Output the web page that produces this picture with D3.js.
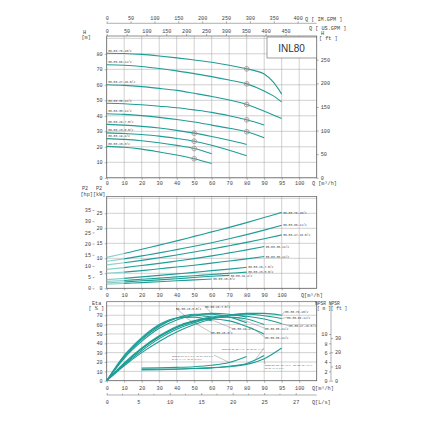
<!DOCTYPE html>
<html><head><meta charset="utf-8">
<script src="https://cdn.jsdelivr.net/npm/d3@7"></script>
<style>body{margin:0;background:#fff}svg{display:block}</style>
</head><body><svg id="c" width="428" height="428"></svg>
<script>
// ---------- tick labels ----------
const qLabelsTop = ["0","10","20","30","40","50","60","70","80","90","95","100"];
const qLabelsMid = ["0","10","20","30","40","50","60","70","80","90","100",""];
const qLabelsBot = ["0","10","20","30","40","50","60","70","80","90","95","100"];
const imGpmTicks = [0,50,100,150,200,250,300,350,400];
const usGpmTicks = [0,50,100,150,200,250,300,350,400,450];
const hTicks = [0,10,20,30,40,50,60,70,80];
const ftTicks = [0,50,100,150,200,250];
const kwTicks = [0,5,10,15,20,25];
const hpTicks = [0,5,10,15,20,25,30,35];
const etaTicks = [0,10,20,30,40,50,60,70];
const npshMTicks = [0,2,4,6,8,10];
const npshFtTicks = [0,10,20,30];
const lsTicks = [0,5,10,15,20,25,30];
const lsLabels = ["0","5","10","15","20","25","27"];

// ---------- models ----------
const models = ["80-80-76-10/2","80-80-66-12/2","80-80-47-16.5/2","80-80-38-11/2","80-80-30-11/2",
                "80-50-26-7.5/2","80-50-23-5.5/2","80-50-19-4/2","80-50-15-3/2"];

// ---------- head curves H[m] vs Q ----------
const h76 = [[0,80.4],[10,80.2],[20,79.6],[30,78.6],[40,77.4],[50,76],[60,74.5],[70,72.6],[80,70.3],[85,69],[90,67],[95,62],[100,54]];
const h66 = [[0,72.9],[10,72.6],[20,71.8],[30,70.5],[40,69],[50,67.2],[60,65.3],[70,63.1],[80,60.6],[90,56],[95,53],[100,49]];
const h47 = [[0,60],[10,59.6],[20,58.8],[30,57.7],[40,56.4],[50,54.5],[60,52.5],[70,50.2],[80,47.3],[90,43],[100,38.3]];
const h38 = [[0,48.1],[10,47.8],[20,47.1],[30,46.2],[40,45.2],[50,43.8],[60,42.2],[70,40],[80,37.4],[90,34]];
const h30 = [[0,41.3],[10,40.9],[20,40.1],[30,39],[40,37.6],[50,36],[60,34],[70,32],[80,29.7],[90,25.8]];
const h26 = [[0,34.5],[10,34],[20,33.2],[30,32.1],[40,30.6],[50,28.8],[60,26.6],[70,24.2],[80,21.5]];
const h23 = [[0,29],[10,28.6],[20,27.9],[30,26.9],[40,25.4],[50,23.6],[60,21],[70,17.8],[80,14.2]];
const h19 = [[0,25.3],[10,24.8],[20,23.9],[30,22.6],[40,20.9],[50,18.9],[60,15.5]];
const h15 = [[0,20.3],[10,19.7],[20,18.5],[30,16.7],[40,14.7],[50,12.3],[60,9.2]];
const headCurves = [h76,h66,h47,h38,h30,h26,h23,h19,h15];
const dutyPoints = [[80,70.3],[80,60.6],[80,47.3],[80,37.4],[80,29.7],[50,28.8],[50,23.6],[50,18.9],[50,12.3]];

// ---------- power curves P2[kW] vs Q ----------
const p76 = [[0,10.3],[10,11.6],[20,13],[30,14.4],[40,15.8],[50,17.3],[60,18.8],[70,20.3],[80,21.9],[90,23.6],[100,25.3]];
const p66 = [[0,9],[10,9.8],[20,10.8],[30,11.8],[40,12.9],[50,14],[60,15.2],[70,16.5],[80,17.9],[90,19.4],[100,21]];
const p47 = [[0,7.8],[10,8.5],[20,9.3],[30,10.2],[40,11.1],[50,12.1],[60,13.1],[70,14.2],[80,15.3],[90,16.5],[100,17.8]];
const p38 = [[0,6.3],[10,6.9],[20,7.6],[30,8.3],[40,9.1],[50,9.9],[60,10.8],[70,11.8],[80,12.8],[90,13.9]];
const p30 = [[0,5],[10,5.4],[20,5.9],[30,6.5],[40,7.1],[50,7.7],[60,8.4],[70,9.1],[80,9.8],[90,10.6]];
const p26 = [[0,2.9],[10,3.3],[20,3.8],[30,4.3],[40,4.8],[50,5.3],[60,5.9],[70,6.4],[80,7]];
const p23 = [[0,2.3],[10,2.6],[20,3],[30,3.4],[40,3.8],[50,4.2],[60,4.6],[70,5],[80,5.4]];
const p19 = [[0,1.8],[10,2.1],[20,2.5],[30,2.8],[40,3.2],[50,3.6],[60,4],[70,4.3]];
const p15 = [[0,1.4],[10,1.6],[20,1.9],[30,2.2],[40,2.5],[50,2.8],[60,3.1]];
const powerCurves = [p76,p66,p47,p38,p30,p26,p23,p19,p15];

// ---------- efficiency curves Eta[%] vs Q ----------
const e76 = [[0,0],[10,16],[20,30],[30,42],[40,52],[50,60],[60,66],[70,70],[80,72],[90,72],[100,70]];
const e66 = [[0,0],[10,17],[20,32],[30,45],[40,55],[50,62],[60,67],[70,70],[80,71],[90,69.5],[100,66.5]];
const e47 = [[0,0],[10,18],[20,34],[30,47],[40,57],[50,64],[60,68],[70,70],[80,69],[90,66],[100,61]];
const e38 = [[0,0],[10,18],[20,34],[30,47],[40,57],[50,63],[60,67],[70,68],[80,66],[90,60]];
const e30 = [[0,0],[10,19],[20,35],[30,48],[40,58],[50,64],[60,66],[70,64],[80,58],[90,50]];
const e26 = [[0,0],[10,24],[20,42],[30,56],[40,65],[50,70],[60,72],[70,71],[80,68]];
const e23 = [[0,0],[10,25],[20,44],[30,58],[40,67],[50,71],[60,71],[70,68],[80,62]];
const e19 = [[0,0],[10,26],[20,45],[30,59],[40,67],[50,70],[60,68]];
const e15 = [[0,0],[10,27],[20,46],[30,60],[40,67],[50,68],[60,64]];
const etaCurves = [e76,e66,e47,e38,e30,e26,e23,e19,e15];

// ---------- NPSH curves [m] vs Q ----------
const nA = [[20,2.7],[30,2.75],[40,2.85],[50,3],[60,3.3],[70,3.9],[80,5.2]];
const nB = [[20,2.3],[30,2.35],[40,2.45],[50,2.6],[60,2.8],[70,3.1],[80,3.7],[90,5.4]];
const nC = [[20,2.4],[30,2.45],[40,2.5],[50,2.6],[60,2.75],[70,3],[80,3.5],[90,4.7],[100,7]];
const npshCurves = [nA,nB,nC];
const npshLabels = [
  ["NPSR(80-50-26-7.5/2, 80-50-23-5.5/2,","80-50-19-4/2, 80-50-15-3/2)"],
  ["NPSR(80-80-38-11/2, 80-80-30-11/2)"],
  ["NPSR(80-80-76-10/2, 80-80-66-12/2,","80-80-47-16.5/2)"]
];

// ---------- drawing ----------
const svg = d3.select("#c");
svg.append("rect").attr("width",428).attr("height",428).attr("fill","#fff");
const TEAL = "#1f9d96", GRID = "#a0a0a0", FRAME = "#606060", TXT = "#444";
const FONT = "Liberation Mono, DejaVu Sans Mono, monospace";
const X0 = 106.7, X1 = 316.7;
const x = d3.scaleLinear([0,120],[X0,X1]);
const gridQ = d3.range(0,121,10);

const yH = d3.scaleLinear([0,90],[177.8,38.3]);
const yFt = d3.scaleLinear([0,90*3.2808],[177.8,38.3]);
const yP = d3.scaleLinear([0,30],[288.3,198.3]);
const yHp = d3.scaleLinear([0,30*1.341],[288.3,198.3]);
const yE = d3.scaleLinear([0,80],[380.7,305.9]);
const yN = d3.scaleLinear([0,10],[380.7,334]);
const yNft = d3.scaleLinear([0,10*3.2808],[380.7,334]);
const xIM = d3.scaleLinear([0,120*3.666],[X0,X1]);
const xUS = d3.scaleLinear([0,120*4.403],[X0,X1]);
const xLs = d3.scaleLinear([0,120/3.6],[X0,X1]);

function txt(s, px, py, anchor, size, fam) {
  return svg.append("text").attr("x",px).attr("y",py).attr("text-anchor",anchor||"start")
    .attr("font-family",fam||FONT).attr("font-size",size||5.2).attr("fill",TXT).text(s);
}
function panel(top, bottom, yScale, yTickVals, qLabels, labelY) {
  const g = svg.append("g");
  gridQ.forEach(q => g.append("line").attr("x1",x(q)).attr("x2",x(q)).attr("y1",top).attr("y2",bottom)
     .attr("stroke",GRID).attr("stroke-width",0.5));
  yTickVals.forEach(v => g.append("line").attr("x1",X0).attr("x2",X1).attr("y1",yScale(v)).attr("y2",yScale(v))
     .attr("stroke",GRID).attr("stroke-width",0.5));
  g.append("rect").attr("x",X0).attr("y",top).attr("width",X1-X0).attr("height",bottom-top)
     .attr("fill","none").attr("stroke",FRAME).attr("stroke-width",0.7);
  const ax = svg.append("g").attr("transform",`translate(0,${bottom})`)
    .call(d3.axisBottom(x).tickValues(gridQ.slice(0,12)).tickSize(2).tickFormat((d,i)=>qLabels[i]));
  ax.select(".domain").remove();
  ax.selectAll("line").attr("stroke",FRAME).attr("stroke-width",0.5);
  ax.selectAll("text").attr("font-family",FONT).attr("font-size",5.2).attr("fill",TXT).attr("y",labelY-bottom).attr("dy",0);
  return g;
}
function leftAxis(scale, vals, xPos, dx) {
  const a = svg.append("g").attr("transform",`translate(${xPos},0)`)
    .call(d3.axisLeft(scale).tickValues(vals).tickSize(2).tickPadding(dx||2));
  a.select(".domain").remove();
  a.selectAll("line").attr("stroke",FRAME).attr("stroke-width",0.5);
  a.selectAll("text").attr("font-family",FONT).attr("font-size",5.2).attr("fill",TXT);
  return a;
}
function rightAxis(scale, vals, xPos) {
  const a = svg.append("g").attr("transform",`translate(${xPos},0)`)
    .call(d3.axisRight(scale).tickValues(vals).tickSize(2).tickPadding(2));
  a.select(".domain").remove();
  a.selectAll("line").attr("stroke",FRAME).attr("stroke-width",0.5);
  a.selectAll("text").attr("font-family",FONT).attr("font-size",5.2).attr("fill",TXT);
  return a;
}
const curve = d3.curveMonotoneX;
const LBL = 3.0;

// ===== TOP: H =====
panel(36, 177.8, yH, hTicks.concat([90]), qLabelsTop, 185.3);
leftAxis(yH, hTicks, X0);
rightAxis(yFt, ftTicks, X1);
txt("Q [m\u00B3/h]", 312, 185.3);
txt("H", 83, 33.5); txt("[m]", 81.5, 39);
txt("H", 321, 34.5); txt("[ ft ]", 319, 40);
const axIM = svg.append("g").attr("transform","translate(0,23.3)")
  .call(d3.axisTop(xIM).tickValues(imGpmTicks).tickSize(2).tickPadding(1.5));
axIM.select(".domain").attr("d",`M${X0},0H${X1}`).attr("stroke",FRAME).attr("stroke-width",0.5);
axIM.selectAll("line").attr("stroke",FRAME).attr("stroke-width",0.5);
axIM.selectAll("text").attr("font-family",FONT).attr("font-size",5.2).attr("fill",TXT);
txt("Q [ IM.GPM ]", 305, 20.5);
const axUS = svg.append("g").attr("transform","translate(0,36)")
  .call(d3.axisTop(xUS).tickValues(usGpmTicks).tickSize(2).tickPadding(1.5));
axUS.select(".domain").remove();
axUS.selectAll("line").attr("stroke",FRAME).attr("stroke-width",0.5);
axUS.selectAll("text").attr("font-family",FONT).attr("font-size",5.2).attr("fill",TXT);
txt("Q [ US.GPM ]", 309, 29.5);
svg.append("rect").attr("x",267).attr("y",37).attr("width",49.7).attr("height",21)
  .attr("fill","#fff").attr("stroke",FRAME).attr("stroke-width",0.6);
txt("INL80", 291.5, 51.5, "middle", 10, "Liberation Sans, Arial, sans-serif").attr("fill","#333");

const lineH = d3.line().x(d=>x(d[0])).y(d=>yH(d[1])).curve(curve);
headCurves.forEach((c,i) => {
  svg.append("path").attr("d",lineH(c)).attr("fill","none").attr("stroke",TEAL).attr("stroke-width",1.1);
  txt(models[i], X0+1.5, yH(c[0][1])-1.6, "start", LBL);
});
dutyPoints.forEach(p => {
  const cx = x(p[0]), cy = yH(p[1]);
  svg.append("circle").attr("cx",cx).attr("cy",cy).attr("r",2.4).attr("fill","none").attr("stroke","#9a8c8c").attr("stroke-width",0.7);
  svg.append("path").attr("d",`M${cx-2.4},${cy}H${cx+2.4}M${cx},${cy-2.4}V${cy+2.4}`).attr("stroke","#9a8c8c").attr("stroke-width",0.5);
});

// ===== MIDDLE: P2 =====
panel(196.5, 288.3, yP, kwTicks.concat([30]), qLabelsMid, 297.3);
leftAxis(yP, kwTicks, X0);
leftAxis(yHp, hpTicks, 94.5, 1.5);
txt("P2", 82, 189.5); txt("P2", 96, 189.5);
txt("[hp][kW]", 80.5, 196);
txt("Q[m\u00B3/h]", 301, 297.3);
const lineP = d3.line().x(d=>x(d[0])).y(d=>yP(d[1])).curve(curve);
powerCurves.forEach((c,i) => {
  const faint = c.filter(d=>d[0]<=10), solid = c.filter(d=>d[0]>=10);
  svg.append("path").attr("d",lineP(faint)).attr("fill","none").attr("stroke","#8ccfca").attr("stroke-width",1.1);
  svg.append("path").attr("d",lineP(solid)).attr("fill","none").attr("stroke",TEAL).attr("stroke-width",1.1);
  const e = c[c.length-1];
  txt(models[i], x(e[0])+1.5, yP(e[1])+1.1, "start", LBL);
});

// ===== BOTTOM: Eta / NPSH =====
panel(301.7, 380.7, yE, etaTicks.concat([80]), qLabelsBot, 390.3);
leftAxis(yE, etaTicks, X0);
txt("Eta", 92, 304.5); txt("[ % ]", 88.5, 309.5);
txt("Q[m\u00B3/h]", 312, 390.3);
svg.append("line").attr("x1",331).attr("x2",331).attr("y1",301.7).attr("y2",380.7).attr("stroke",FRAME).attr("stroke-width",0.5);
leftAxis(yN, npshMTicks, 331, 1.5);
rightAxis(yNft, npshFtTicks, 331);
txt("NPSR NPSR", 315, 304.5, "start", 4.6);
txt("[ m ][ ft ]", 317, 309.5, "start", 4.6);
const axLs = svg.append("g").attr("transform","translate(0,395)")
  .call(d3.axisTop(xLs).tickValues(lsTicks).tickSize(2).tickFormat((d,i)=>lsLabels[i]));
axLs.select(".domain").attr("d",`M${X0},0H${X1}`).attr("stroke",FRAME).attr("stroke-width",0.5);
axLs.selectAll("line").attr("stroke",FRAME).attr("stroke-width",0.5);
axLs.selectAll("text").attr("font-family",FONT).attr("font-size",5.2).attr("fill",TXT).attr("y",9).attr("dy",0);
svg.append("g").attr("transform","translate(0,395)").selectAll("line").data(d3.range(2.5,30,5)).join("line")
  .attr("x1",d=>xLs(d)).attr("x2",d=>xLs(d)).attr("y1",0).attr("y2",-1.2).attr("stroke",FRAME).attr("stroke-width",0.5);
txt("Q[L/s]", 312, 404);

const lineE = d3.line().x(d=>x(d[0])).y(d=>yE(d[1])).curve(d3.curveMonotoneX);
etaCurves.forEach(c => {
  svg.append("path").attr("d",lineE(c)).attr("fill","none").attr("stroke",TEAL).attr("stroke-width",1.1);
});
const etaLabelPos = [[0,285,312.5,100],[1,287,318.5,100],[2,289,327,100],[3,265,329.5,75],[4,265,338.5,85],
                     [5,205,307.5,60],[6,176,309.5,45],[7,232,329.5,55],[8,211,333.5,45]];
function valAt(c,q){ const i=d3.bisector(d=>d[0]).left(c,q); if(i<=0) return c[0][1]; if(i>=c.length) return c[c.length-1][1];
  const a=c[i-1], b=c[i]; return a[1]+(b[1]-a[1])*(q-a[0])/(b[0]-a[0]); }
etaLabelPos.forEach(([m,tx,ty,q]) => {
  const c = etaCurves[m];
  svg.append("line").attr("x1",x(q)).attr("y1",yE(valAt(c,q))).attr("x2",tx).attr("y2",ty-1.2)
    .attr("stroke","#555").attr("stroke-width",0.35);
  txt(models[m], tx, ty, "start", LBL);
});

const lineN = d3.line().x(d=>x(d[0])).y(d=>yN(d[1])).curve(d3.curveMonotoneX);
npshCurves.forEach(c => {
  svg.append("path").attr("d",lineN(c)).attr("fill","none").attr("stroke",TEAL).attr("stroke-width",1.1);
});
const npshLabelPos = [[172,356.5,[42,30],70,214],[222,349.5,[42],85,264],[265,365.5,[48,19],90,265]];
npshLabelPos.forEach(([tx,ty,ws,qa,ex],k) => {
  const c = npshCurves[k];
  npshLabels[k].forEach((s,j) => txt(s, tx, ty + j*3.8, "start", 2.5)
    .attr("textLength", ws[j]).attr("lengthAdjust","spacingAndGlyphs"));
  svg.append("line").attr("x1",x(qa)).attr("y1",yN(valAt(c,qa))).attr("x2",ex).attr("y2",ty-1.5)
    .attr("stroke","#555").attr("stroke-width",0.35);
});
</script></body></html>
